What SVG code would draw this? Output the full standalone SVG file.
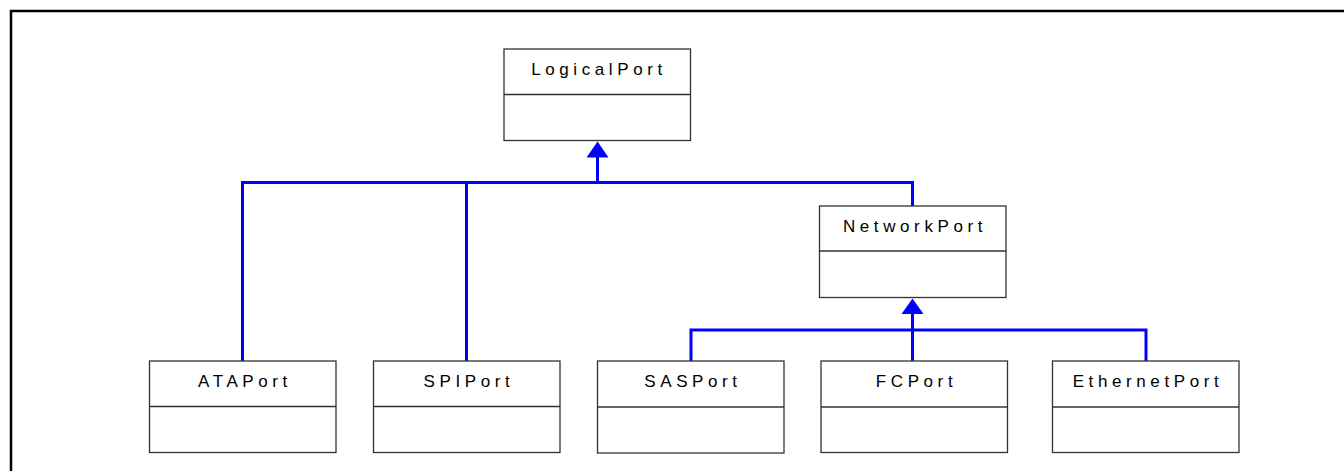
<svg xmlns="http://www.w3.org/2000/svg" width="1344" height="471" viewBox="0 0 1344 471">
<style>
.box{fill:#fff;stroke:#333;stroke-width:1.3}
.div{stroke:#333;stroke-width:1.3}
.lbl{font-family:"Liberation Sans",Arial,sans-serif;font-size:17px;letter-spacing:4.6px;fill:#000;text-anchor:middle}
.conn{fill:none;stroke:#0000ff;stroke-width:3}
.head{fill:#0000ff}
</style>
<rect x="0" y="0" width="1344" height="471" fill="#fff"/>
<path d="M11 480 V11 H1350" fill="none" stroke="#000" stroke-width="2.5"/>
<g id="connectors">
<path class="conn" d="M242.5 361 V182.5 H912.5 V206"/>
<path class="conn" d="M466.5 361 V182.5"/>
<path class="conn" d="M597.5 182.5 V155"/>
<polygon class="head" points="597.5,141.5 586.5,157.5 608.5,157.5"/>
<path class="conn" d="M691 361 V330 H1146 V361"/>
<path class="conn" d="M912.5 361 V312"/>
<polygon class="head" points="912.5,298.5 901.5,314 923.5,314"/>
</g>
<g id="LogicalPort">
<rect class="box" x="504" y="49" width="186.5" height="91.5"/>
<line class="div" x1="504" y1="94.5" x2="690.5" y2="94.5"/>
<text class="lbl" x="599" y="74.5">LogicalPort</text>
</g>
<g id="NetworkPort">
<rect class="box" x="819.5" y="206" width="186.5" height="91.5"/>
<line class="div" x1="819.5" y1="251" x2="1006" y2="251"/>
<text class="lbl" x="915" y="231.5">NetworkPort</text>
</g>
<g id="ATAPort">
<rect class="box" x="149.5" y="361" width="186.5" height="91.5"/>
<line class="div" x1="149.5" y1="406.5" x2="336" y2="406.5"/>
<text class="lbl" x="245" y="387">ATAPort</text>
</g>
<g id="SPIPort">
<rect class="box" x="373.5" y="361" width="186.5" height="91.5"/>
<line class="div" x1="373.5" y1="406.5" x2="560" y2="406.5"/>
<text class="lbl" x="469" y="387">SPIPort</text>
</g>
<g id="SASPort">
<rect class="box" x="597.5" y="361" width="186.5" height="92"/>
<line class="div" x1="597.5" y1="407" x2="784" y2="407"/>
<text class="lbl" x="693" y="387">SASPort</text>
</g>
<g id="FCPort">
<rect class="box" x="821" y="361" width="186.5" height="91.5"/>
<line class="div" x1="821" y1="407" x2="1007.5" y2="407"/>
<text class="lbl" x="916.5" y="387">FCPort</text>
</g>
<g id="EthernetPort">
<rect class="box" x="1052.5" y="361" width="186.5" height="91.5"/>
<line class="div" x1="1052.5" y1="407" x2="1239" y2="407"/>
<text class="lbl" x="1148" y="387">EthernetPort</text>
</g>
</svg>
